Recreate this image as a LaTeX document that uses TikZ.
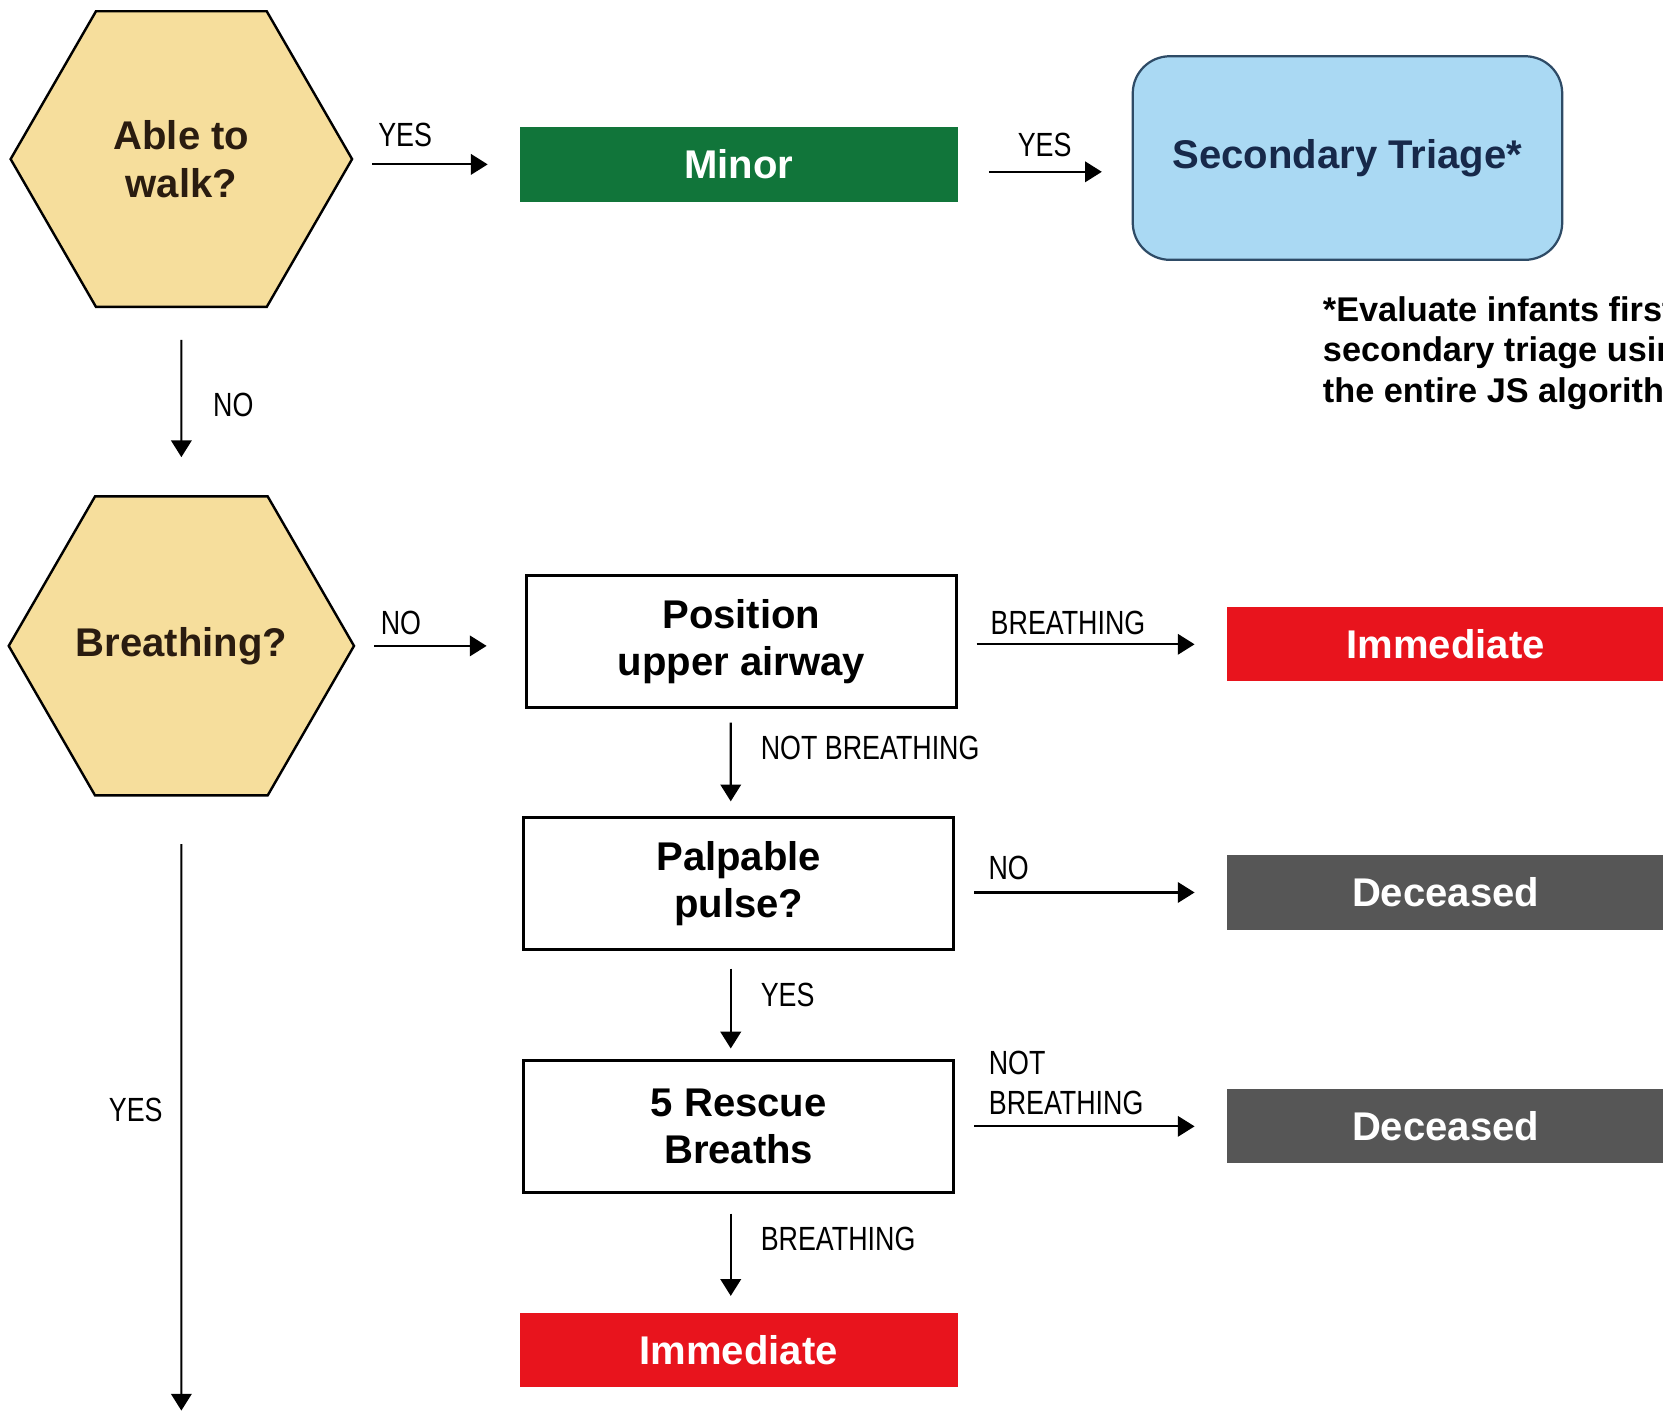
\documentclass[tikz,border=0pt]{standalone}
\usepackage{fontspec}
\setmainfont{Liberation Sans}
\newfontfamily\labelfont{Liberation Sans}[FakeStretch=0.8]
\usetikzlibrary{arrows.meta,shapes.geometric}

\definecolor{hexfill}{HTML}{F6DE9C}
\definecolor{hexink}{HTML}{2A1C10}
\definecolor{minorgreen}{HTML}{11753A}
\definecolor{secblue}{HTML}{AAD9F3}
\definecolor{secedge}{HTML}{2E4B66}
\definecolor{secink}{HTML}{17294A}
\definecolor{immred}{HTML}{E8141D}
\definecolor{decgray}{HTML}{565656}

\newcommand{\boxfont}{\bfseries\fontsize{21.5}{25.5}\selectfont}

\begin{document}
\begin{tikzpicture}[x=0.02cm, y=-0.02cm, >={Triangle[length=9pt,width=11pt]},
	hexbox/.style={regular polygon, regular polygon sides=6, minimum size=6.44cm, inner sep=0pt,
		draw=black, line width=1.3pt, fill=hexfill, text=hexink, align=center, font=\boxfont},
	actbox/.style={draw=black, line width=1.6pt, fill=white, minimum width=8.12cm, minimum height=2.48cm,
		align=center, font=\boxfont},
	tagbox/.style={minimum width=8.26cm, minimum height=1.4cm, text=white, font=\boxfont},
	lbl/.style={inner sep=0pt, font=\labelfont\fontsize{18}{21.5}\selectfont, align=left},
	arr/.style={->, line width=1.1pt}]
	\useasboundingbox (0,0) rectangle (1568,1335);
	% first question
	\node[hexbox] (walk) at (171,150) {Able to\\walk?};
	\node[tagbox, fill=minorgreen] (minor) at (696.5,155) {Minor};
	\node[draw=secedge, line width=1.2pt, fill=secblue, rounded corners=0.7cm, minimum width=8.1cm,
		minimum height=3.84cm, text=secink, font=\boxfont] (second) at (1270.5,149) {Secondary Triage*};
	\node[anchor=west, inner sep=0pt, align=left, font=\bfseries\fontsize{18.4}{21.5}\selectfont] (note) at (1247,333)
		{*Evaluate infants first\\secondary triage using\\the entire JS algorithm};
	% second question
	\node[hexbox] (breath) at (171,609) {\raisebox{3pt}{Breathing?}};
	\node[actbox] (airway) at (699,605) {Position\\upper airway};
	\node[tagbox, fill=immred] (immA) at (1363,607.5) {Immediate};
	\node[actbox] (pulse) at (696.5,833) {Palpable\\pulse?};
	\node[tagbox, fill=decgray] (decA) at (1363,841.5) {Deceased};
	\node[actbox] (rescue) at (696.5,1062) {5 Rescue\\Breaths};
	\node[tagbox, fill=decgray] (decB) at (1363,1062) {Deceased};
	\node[tagbox, fill=immred] (immB) at (696.5,1273) {Immediate};
	\coordinate (yesend) at (171,1330);

	\draw[arr, shorten <=10pt, shorten >=17pt] (minor.west -| walk.east) -- (minor.west);
	\draw[arr, shorten <=16.5pt, shorten >=16pt] ([yshift=-0.14cm]minor.east) -- ([yshift=-0.14cm]minor.east -| second.west);
	\draw[arr, shorten <=17pt, shorten >=20.4pt] (walk.south) -- (breath.north);
	\draw[arr, shorten <=10pt, shorten >=20.4pt] (breath.east) -- (breath.east -| airway.west);
	\draw[arr, shorten <=10pt, shorten >=17pt] (immA.west -| airway.east) -- (immA.west);
	\draw[arr, shorten <=10pt, shorten >=17pt] (decA.west -| pulse.east) -- (decA.west);
	\draw[arr, shorten <=10pt, shorten >=17pt] (decB.west -| rescue.east) -- (decB.west);
	\draw[arr, shorten <=7.4pt, shorten >=8pt] ([xshift=-0.2cm]airway.south) -- ([xshift=-0.15cm]pulse.north);
	\draw[arr, shorten <=9.6pt, shorten >=5.7pt] ([xshift=-0.15cm]pulse.south) -- ([xshift=-0.15cm]rescue.north);
	\draw[arr, shorten <=10.8pt, shorten >=9pt] ([xshift=-0.15cm]rescue.south) -- ([xshift=-0.15cm]immB.north);
	\draw[arr, shorten <=25.5pt] (breath.south) -- (yesend);

	\node[lbl] (lwalkyes) at (382,127) {YES};
	\node[lbl] (lminoryes) at (985,137) {YES};
	\node[lbl] (lwalkno) at (220,382) {NO};
	\node[lbl] (lbreathno) at (378,587) {NO};
	\node[lbl] (lairbr) at (1007,587) {BREATHING};
	\node[lbl, anchor=west] (lairnot) at (717,705) {NOT BREATHING};
	\node[lbl] (lpulseno) at (951,818) {NO};
	\node[lbl, anchor=west] (lpulseyes) at (717,938) {YES};
	\node[lbl, anchor=west] (lrescnot) at (932,1021) {NOT\\BREATHING};
	\node[lbl, anchor=west] (lrescbr) at (717,1168) {BREATHING};
	\node[lbl] (lbreathyes) at (128,1047) {YES};
\end{tikzpicture}
\end{document}
